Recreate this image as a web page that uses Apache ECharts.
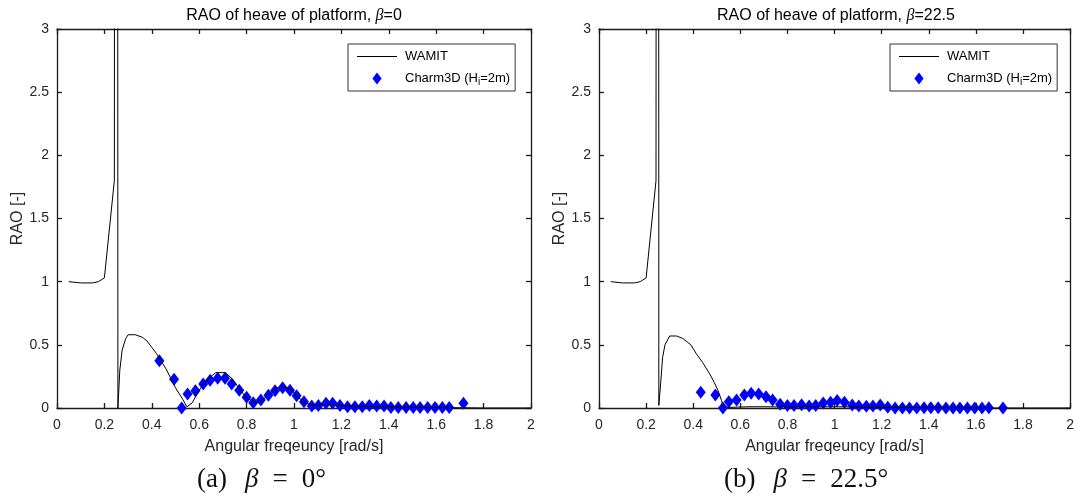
<!DOCTYPE html>
<html>
<head>
<meta charset="utf-8">
<script src="https://cdn.jsdelivr.net/npm/echarts@6/dist/echarts.min.js"></script>
<style>html,body{margin:0;padding:0;background:#fff}#c{width:1077px;height:497px}</style>
</head>
<body>
<div id="c"></div>
<script>
// ---- data ----
const panelTitles = ['0', '22.5'];
const captions = ['(a)', '(b)'];
const captionAngles = ['0°', '22.5°'];

// WAMIT curve, beta = 0
const wamitAx = [0.05,0.1,0.15,0.175,0.2,0.242,0.25,0.257,0.265,0.275,0.29,0.3,0.33,0.36,0.38,0.42,0.46,0.5,0.53,0.548,0.57,0.6,0.63,0.67,0.71,0.74,0.77,0.8,0.84,0.87,0.9,0.93,0.96,0.99,1.02,1.05,1.08,1.12,1.16,1.2,1.3,1.4,1.5,1.6,1.7,1.8,1.9,2.0];
const wamitAy = [1.0,0.99,0.99,1.0,1.03,1.8,30,0.0,0.3,0.46,0.55,0.58,0.58,0.56,0.53,0.43,0.31,0.16,0.07,0.01,0.04,0.14,0.22,0.28,0.28,0.23,0.15,0.08,0.04,0.07,0.12,0.16,0.17,0.14,0.08,0.04,0.02,0.03,0.03,0.02,0.01,0.01,0.005,0.003,0.002,0,0,0];

// WAMIT curve, beta = 22.5
const wamitBx = [0.05,0.1,0.15,0.175,0.2,0.242,0.25,0.254,0.262,0.27,0.28,0.3,0.33,0.356,0.39,0.413,0.44,0.47,0.49,0.505,0.52,0.528,0.55,0.6,0.65,0.7,0.8,0.9,1.0,1.1,1.2,1.4,1.6,1.8,2.0];
const wamitBy = [1.0,0.99,0.99,1.0,1.03,1.8,30,0.02,0.2,0.4,0.5,0.57,0.57,0.55,0.5,0.43,0.36,0.27,0.2,0.14,0.06,0.01,0.005,0.008,0.01,0.01,0.008,0.008,0.01,0.008,0.005,0.003,0,0,0];

// Charm3D (Hi=2m) frequencies and RAOs
const omega = [0.432,0.494,0.526,0.551,0.584,0.617,0.646,0.678,0.709,0.737,0.769,0.80,0.828,0.86,0.892,0.92,0.952,0.983,1.011,1.042,1.075,1.103,1.135,1.163,1.194,1.226,1.257,1.288,1.318,1.349,1.38,1.409,1.44,1.473,1.503,1.532,1.564,1.595,1.626,1.655,1.715];
const charmA = [0.375,0.227,0.0,0.11,0.137,0.19,0.22,0.235,0.235,0.19,0.14,0.085,0.042,0.063,0.10,0.137,0.16,0.14,0.096,0.05,0.015,0.02,0.037,0.037,0.02,0.01,0.01,0.01,0.02,0.015,0.015,0.003,0.003,0.003,0.003,0.003,0.003,0.003,0.003,0.003,0.037];
const charmB = [0.124,0.103,0.0,0.05,0.063,0.103,0.116,0.11,0.09,0.063,0.03,0.02,0.02,0.025,0.016,0.02,0.04,0.045,0.06,0.045,0.024,0.016,0.013,0.016,0.024,0.005,0.0,0.0,0.0,0.0,0.002,0.002,0.002,0.0,0.0,0.0,0.0,0.0,0.0,0.002,0.0];

const seriesNames = ['WAMIT', 'Charm3D (Hi=2m)'];
// ---------------------------------------

const FONT = 'Liberation Sans';
const SERIF = 'Liberation Serif';
const zip = (xs, ys) => xs.map((x, i) => [x, ys[i]]);

const grids = [
  {left: 57, top: 29, width: 474, height: 379},
  {left: 599, top: 29, width: 474, height: 379}
];

const axisLine = {show: true, onZero: false, lineStyle: {color: '#1a1a1a', width: 1.3}};
const tickIn = {show: true, inside: true, length: 5, lineStyle: {color: '#1a1a1a', width: 1.3}};
const labelStyle = {fontFamily: FONT, fontSize: 14, color: '#262626'};
const nameStyle = {fontFamily: FONT, fontSize: 16, color: '#262626'};

const xAxes = [], yAxes = [];
[0, 1].forEach(g => {
  xAxes.push({type: 'value', gridIndex: g, position: 'bottom', min: 0, max: 2, interval: 0.2,
    axisLine, axisTick: tickIn, splitLine: {show: false},
    axisLabel: Object.assign({margin: 10}, labelStyle),
    name: 'Angular freqeuncy [rad/s]', nameLocation: 'middle', nameGap: 31,
    nameTextStyle: nameStyle});
  xAxes.push({type: 'value', gridIndex: g, position: 'top', min: 0, max: 2, interval: 0.2,
    axisLine, axisTick: tickIn, splitLine: {show: false}, axisLabel: {show: false}});
  yAxes.push({type: 'value', gridIndex: g, position: 'left', min: 0, max: 3, interval: 0.5,
    axisLine, axisTick: tickIn, splitLine: {show: false},
    axisLabel: Object.assign({margin: 8}, labelStyle),
    name: 'RAO [-]', nameLocation: 'middle', nameGap: 31,
    nameTextStyle: nameStyle});
  yAxes.push({type: 'value', gridIndex: g, position: 'right', min: 0, max: 3, interval: 0.5,
    axisLine, axisTick: tickIn, splitLine: {show: false}, axisLabel: {show: false}});
});

const captionLeft = [197, 724];
const titles = [];
[0, 1].forEach(g => {
  const cx = grids[g].left + grids[g].width / 2;
  titles.push({
    text: '{a|RAO of heave of platform, }{b|β}{a|=' + panelTitles[g] + '}',
    left: cx, top: 8, textAlign: 'center', padding: 0,
    textStyle: {rich: {
      a: {fontFamily: FONT, fontSize: 16, fontWeight: 'normal', color: '#000'},
      b: {fontFamily: SERIF, fontStyle: 'italic', fontWeight: 'normal', fontSize: 16, color: '#000'}
    }}
  });
  titles.push({
    text: '{p|' + captions[g] + '}{b|β}{e|=}{v|' + captionAngles[g] + '}',
    left: captionLeft[g], top: 466, textAlign: 'left', padding: 0,
    textStyle: {rich: {
      p: {fontFamily: SERIF, fontSize: 27, fontWeight: 'normal', color: '#111', padding: [0, 18, 0, 0]},
      b: {fontFamily: SERIF, fontStyle: 'italic', fontWeight: 'normal', fontSize: 27, color: '#111', padding: [0, 14, 0, 0]},
      e: {fontFamily: SERIF, fontSize: 27, fontWeight: 'normal', color: '#111', padding: [0, 14, 0, 0]},
      v: {fontFamily: SERIF, fontSize: 27, fontWeight: 'normal', color: '#111'}
    }}
  });
});

const legendRich = {
  n: {fontFamily: FONT, fontSize: 13, color: '#000', padding: [0, 0, 0, 3]},
  m: {fontFamily: FONT, fontSize: 13, color: '#000'},
  s: {fontFamily: FONT, fontSize: 10, color: '#000', verticalAlign: 'bottom', padding: [7, 0, 0, 0]}
};
const legends = [0, 1].map(g => ({
  left: grids[g].left + 291, top: 44, orient: 'vertical',
  backgroundColor: '#fff', borderColor: '#333', borderWidth: 1,
  padding: [6, 5, 4, 9], itemGap: 9, itemWidth: 40, itemHeight: 12,
  textStyle: {rich: legendRich},
  formatter: name => name === seriesNames[0] ? '{n|WAMIT}' : '{n|Charm3D (H}{s|i}{m|=2m)}',
  data: [
    {name: seriesNames[0], icon: 'path://M0,0L40,0L40,1L0,1Z'},
    {name: seriesNames[1], icon: 'path://M5,0L10,6.5L5,13L0,6.5Z'}
  ]
}));

const lineSeries = (g, xs, ys) => ({
  name: seriesNames[0], type: 'line', xAxisIndex: 2 * g, yAxisIndex: 2 * g,
  data: zip(xs, ys), symbol: 'none', clip: true,
  lineStyle: {color: '#000', width: 1}, itemStyle: {color: '#000'}, animation: false
});
const scatterSeries = (g, ys) => ({
  name: seriesNames[1], type: 'scatter', xAxisIndex: 2 * g, yAxisIndex: 2 * g,
  data: zip(omega, ys), symbol: 'diamond', symbolSize: [10, 13], clip: false,
  itemStyle: {color: '#0000ff', opacity: 1}, animation: false
});

const chart = echarts.init(document.getElementById('c'), null, {renderer: 'canvas'});
chart.setOption({
  animation: false,
  backgroundColor: '#fff',
  title: titles,
  legend: legends,
  grid: grids,
  xAxis: xAxes,
  yAxis: yAxes,
  series: [
    lineSeries(0, wamitAx, wamitAy), scatterSeries(0, charmA),
    lineSeries(1, wamitBx, wamitBy), scatterSeries(1, charmB)
  ]
});
</script>
</body>
</html>
